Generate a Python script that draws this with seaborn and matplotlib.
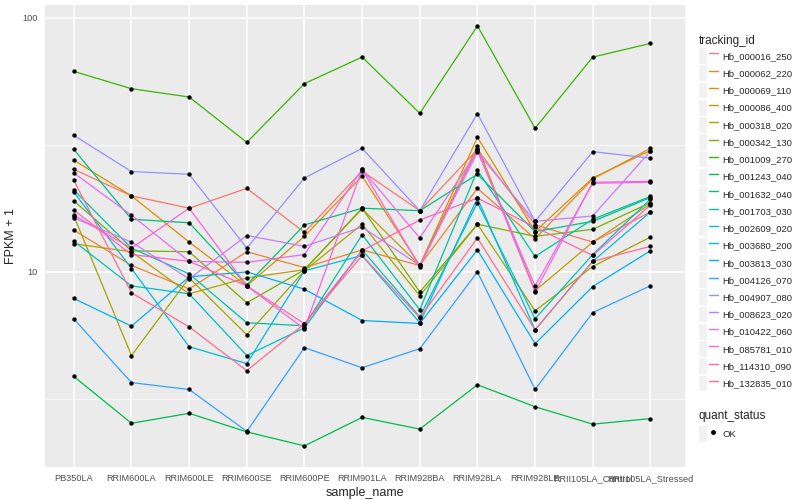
import numpy as np
import pandas as pd
import matplotlib
matplotlib.use("Agg")
import matplotlib.pyplot as plt
import seaborn as sns
from matplotlib.lines import Line2D
from matplotlib.patches import Rectangle
from matplotlib.legend_handler import HandlerTuple

# samples, in plotting order
samples = ["PB350LA", "RRIM600LA", "RRIM600LE", "RRIM600SE", "RRIM600PE",
           "RRIM901LA", "RRIM928BA", "RRIM928LA", "RRIM928LE",
           "RRII105LA_Control", "RRII105LA_Stressed"]

tracking_ids = ["Hb_000016_250", "Hb_000062_220", "Hb_000069_110", "Hb_000086_400",
                "Hb_000318_020", "Hb_000342_130", "Hb_001009_270", "Hb_001243_040",
                "Hb_001632_040", "Hb_001703_030", "Hb_002609_020", "Hb_003680_200",
                "Hb_003813_030", "Hb_004126_070", "Hb_004907_080", "Hb_008623_020",
                "Hb_010422_060", "Hb_085781_010", "Hb_114310_090", "Hb_132835_010"]

# FPKM + 1 per gene (one value per sample)
hb_000016_250 = [25.3, 19.9, 17.8, 21.3, 14.3, 24.9, 17.4, 30.3, 15.3, 13.1, 17.2]
hb_000062_220 = [14.6, 10.6, 8.57, 12.0, 10.4, 12.2, 10.6, 21.3, 13.5, 23.2, 30.6]
hb_000069_110 = [27.5, 19.9, 13.1, 8.81, 13.8, 23.8, 10.6, 33.8, 14.4, 23.4, 30.0]
hb_000086_400 = [12.9, 12.0, 8.20, 9.47, 10.2, 17.7, 10.6, 31.2, 8.42, 13.1, 18.5]
hb_000318_020 = [16.6, 4.69, 9.47, 5.66, 10.1, 15.4, 8.05, 15.4, 7.03, 10.5, 13.7]
hb_000342_130 = [19.0, 12.1, 12.0, 7.56, 10.2, 17.8, 8.34, 15.4, 13.8, 14.7, 18.7]
hb_001009_270 = [61.4, 52.5, 48.7, 32.3, 55.0, 69.9, 42.0, 92.7, 36.7, 69.9, 79.1]
hb_001243_040 = [3.88, 2.54, 2.78, 2.35, 2.07, 2.68, 2.41, 3.60, 2.95, 2.52, 2.65]
hb_001632_040 = [30.3, 16.1, 15.6, 8.89, 15.3, 17.8, 17.4, 24.2, 14.4, 15.8, 19.6]
hb_001703_030 = [21.0, 12.4, 9.82, 6.31, 6.14, 14.0, 7.10, 25.1, 11.5, 16.1, 19.8]
hb_002609_020 = [13.2, 8.81, 8.20, 4.69, 6.03, 12.2, 6.66, 18.7, 6.54, 11.7, 19.3]
hb_003680_200 = [20.6, 10.3, 5.08, 4.36, 10.1, 11.6, 6.31, 19.5, 5.92, 11.0, 17.2]
hb_003813_030 = [7.86, 6.12, 9.56, 10.0, 8.55, 6.44, 6.27, 12.2, 5.22, 8.76, 12.1]
hb_004126_070 = [6.53, 3.67, 3.45, 2.36, 5.04, 4.20, 4.99, 10.0, 3.45, 6.92, 8.82]
hb_004907_080 = [34.4, 24.8, 24.2, 12.4, 23.4, 30.6, 17.4, 41.9, 15.8, 29.7, 28.0]
hb_008623_020 = [16.3, 13.1, 9.39, 13.9, 12.6, 15.0, 10.6, 29.5, 15.8, 16.6, 29.8]
hb_010422_060 = [24.5, 16.7, 11.0, 10.9, 11.7, 25.3, 13.6, 29.8, 8.81, 22.3, 22.5]
hb_085781_010 = [16.7, 12.4, 17.8, 8.81, 5.97, 25.3, 10.5, 30.3, 8.34, 22.5, 22.7]
hb_114310_090 = [17.5, 11.7, 11.0, 8.81, 6.25, 12.1, 16.0, 19.5, 15.0, 11.6, 18.3]
hb_132835_010 = [22.9, 8.27, 6.08, 4.09, 6.25, 11.6, 6.60, 13.6, 5.92, 11.0, 12.6]

series = [hb_000016_250, hb_000062_220, hb_000069_110, hb_000086_400, hb_000318_020,
          hb_000342_130, hb_001009_270, hb_001243_040, hb_001632_040, hb_001703_030,
          hb_002609_020, hb_003680_200, hb_003813_030, hb_004126_070, hb_004907_080,
          hb_008623_020, hb_010422_060, hb_085781_010, hb_114310_090, hb_132835_010]

# ggplot2 default hue palette for 20 levels
colors = ["#F8766D", "#EA8331", "#D89000", "#C09B00", "#A3A500", "#7CAE00", "#39B600",
          "#00BB4E", "#00BF7D", "#00C1A3", "#00BFC4", "#00BAE0", "#00B0F6", "#35A2FF",
          "#9590FF", "#C77CFF", "#E76BF3", "#FA62DB", "#FF62BC", "#FF6C91"]
palette = dict(zip(tracking_ids, colors))

rows = []
for tid, vals in zip(tracking_ids, series):
    for s, v in zip(samples, vals):
        rows.append({"tracking_id": tid, "sample_name": s, "fpkm": v, "quant_status": "OK"})
df = pd.DataFrame(rows)
df["x"] = df["sample_name"].map({s: i for i, s in enumerate(samples)})

sns.set_theme(style="darkgrid", rc={
    "axes.facecolor": "#EBEBEB",
    "grid.color": "white",
    "axes.edgecolor": "none",
})
plt.rcParams["font.family"] = ["Liberation Sans", "DejaVu Sans"]

fig = plt.figure(figsize=(8, 5), dpi=100)
ax = fig.add_axes([45 / 800, 1 - 467 / 500, 640 / 800, 462 / 500])

sns.lineplot(data=df, x="x", y="fpkm", hue="tracking_id", palette=palette,
             hue_order=tracking_ids, estimator=None, sort=False, units="tracking_id",
             linewidth=0.9, legend=False, ax=ax)
sns.scatterplot(data=df, x="x", y="fpkm", color="black", s=10, linewidth=0,
                legend=False, ax=ax, zorder=5)

ax.set_yscale("log")
ax.set_ylim(1.71, 112)
ax.set_xlim(-0.5, 10.6)
ax.set_yticks([10, 100])
ax.set_yticklabels(["10", "100"])
ax.set_yticks([10 ** 0.5, 10 ** 1.5], minor=True)
ax.yaxis.set_minor_formatter(plt.NullFormatter())
ax.set_xticks(range(len(samples)))
ax.set_xticklabels(samples)
ax.grid(True, which="major", color="white", linewidth=1.1)
ax.grid(True, which="minor", axis="y", color="white", linewidth=0.5)
ax.tick_params(axis="both", which="major", length=3, color="#333333",
               labelsize=6.6, labelcolor="#4D4D4D", pad=2)
ax.tick_params(axis="y", which="minor", length=0)
ax.set_xlabel("sample_name", fontsize=9, labelpad=3)
ax.set_ylabel("FPKM + 1", fontsize=9, labelpad=4)

# tracking_id legend with grey key boxes
handles = [(Rectangle((0, 0), 1, 1, facecolor="#F2F2F2", edgecolor="none"),
            Line2D([], [], color=c, linewidth=1)) for c in colors]
leg1 = fig.legend(handles, tracking_ids, loc="upper left",
                  bbox_to_anchor=(692 / 800, 1 - 28 / 500), title="tracking_id",
                  frameon=False, handler_map={tuple: HandlerTuple(ndivide=None)},
                  handlelength=2.0, handleheight=2.2, labelspacing=0.15,
                  handletextpad=0.5, borderpad=0.2, fontsize=6.8, title_fontsize=8.5,
                  alignment="left")

pt = (Rectangle((0, 0), 1, 1, facecolor="#F2F2F2", edgecolor="none"),
      Line2D([], [], color="black", marker="o", linestyle="none", markersize=2.5))
leg2 = fig.legend([pt], ["OK"], loc="upper left",
                  bbox_to_anchor=(692 / 800, 1 - 403 / 500), title="quant_status",
                  frameon=False, handler_map={tuple: HandlerTuple(ndivide=None)},
                  handlelength=2.0, handleheight=2.2, handletextpad=0.5, borderpad=0.2,
                  fontsize=6.8, title_fontsize=8.5, alignment="left")

fig.savefig("out.png", dpi=100, facecolor="white")
